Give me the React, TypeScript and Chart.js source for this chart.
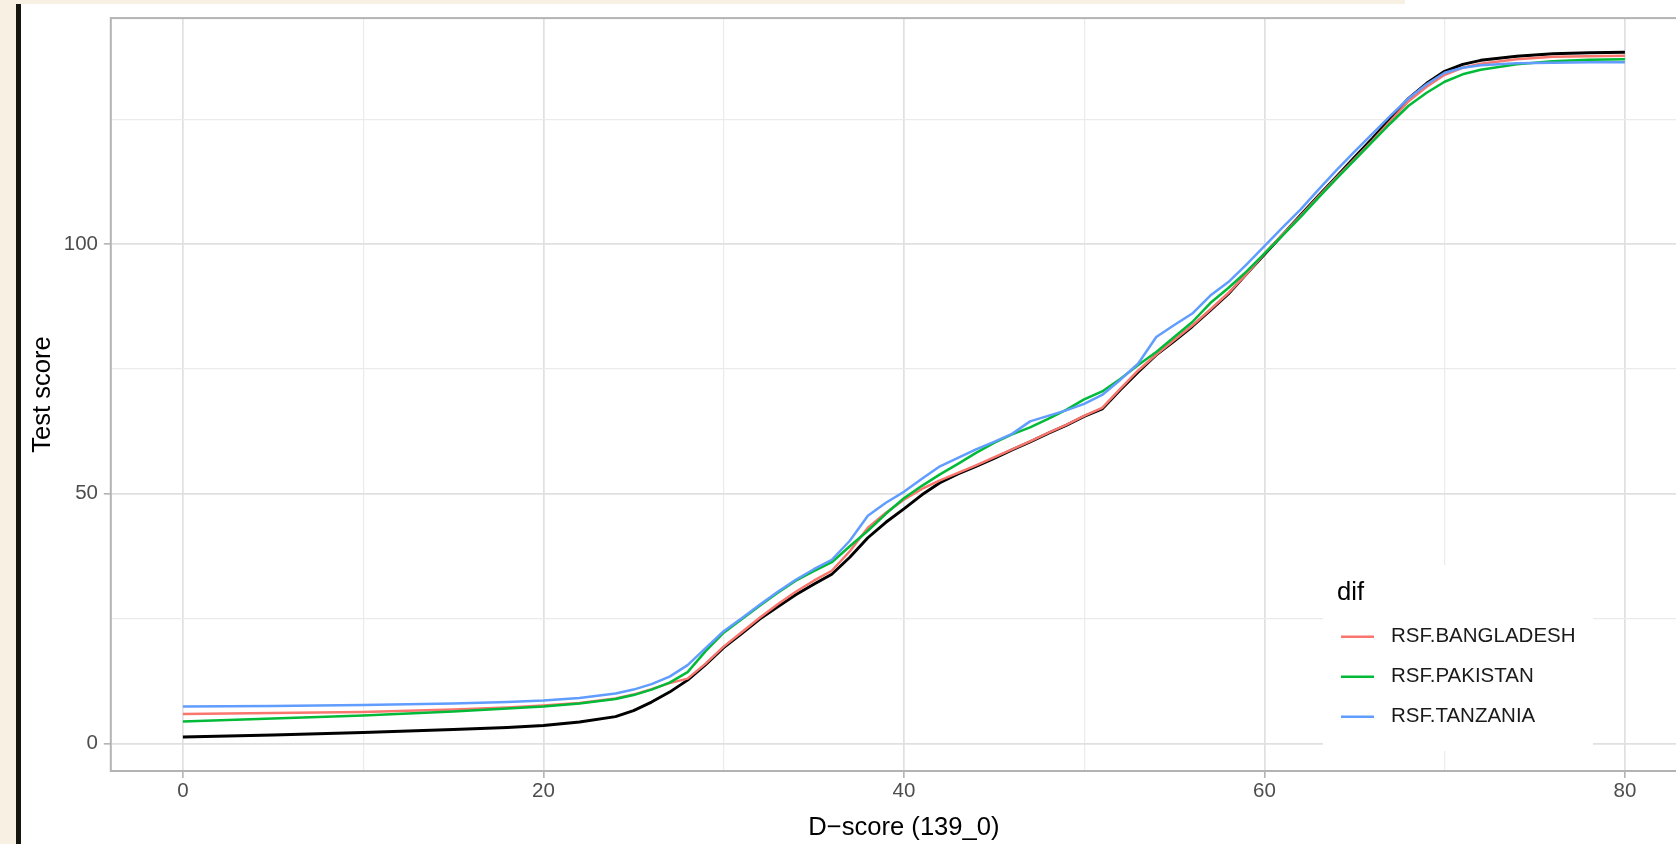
import React, { useEffect, useRef } from "react";
import { Chart, registerables } from "chart.js";

Chart.register(...registerables);

// ---- data ----
const dScore = [
  0, 5, 10, 15, 18, 20, 22, 24, 25, 26, 27, 28, 29, 30, 31, 32, 33, 34, 35, 36, 37, 38, 39,
  40, 41, 42, 43, 44, 45, 46, 47, 48, 49, 50, 51, 52, 53, 54, 55, 56, 57, 58, 59,
  60, 61, 62, 63, 64, 65, 66, 67, 68, 69, 70, 71, 72, 74, 76, 78, 80,
];
const overall = [
  1.3, 1.7, 2.2, 2.8, 3.2, 3.6, 4.3, 5.4, 6.6, 8.3, 10.3, 12.7, 15.8, 19.2, 22.0, 24.9, 27.4, 29.8, 31.9, 33.9, 37.3, 41.2, 44.3,
  47.0, 49.8, 52.2, 54.0, 55.5, 57.1, 58.8, 60.4, 62.1, 63.7, 65.5, 67.0, 70.8, 74.4, 77.8, 80.6, 83.5, 86.7, 90.0, 94.0,
  97.9, 101.8, 105.8, 109.7, 113.5, 117.4, 121.2, 125.2, 129.2, 132.2, 134.6, 136.0, 136.8, 137.6, 138.1, 138.3, 138.4,
];
const bangladesh = [
  5.9, 6.1, 6.3, 6.8, 7.2, 7.6, 8.1, 9.0, 9.8, 10.9, 12.1, 13.0, 16.0, 19.4, 22.3, 25.2, 27.9, 30.4, 32.6, 34.6, 38.5, 43.2, 46.2,
  48.8, 51.0, 52.7, 54.2, 55.7, 57.3, 58.9, 60.5, 62.2, 63.8, 65.6, 67.2, 71.0, 74.7, 77.9, 80.8, 83.7, 86.9, 90.2, 94.0,
  98.1, 101.9, 105.6, 109.5, 113.3, 117.0, 120.7, 124.7, 128.6, 131.5, 133.9, 135.3, 136.1, 137.0, 137.5, 137.6, 137.7,
];
const pakistan = [
  4.4, 5.0, 5.6, 6.4, 7.0, 7.4, 8.0, 8.9, 9.7, 10.8, 12.2, 14.3, 18.5, 22.2, 24.9, 27.6, 30.2, 32.6, 34.5, 36.3, 39.5, 42.6, 46.0,
  49.1, 51.6, 53.9, 56.0, 58.2, 60.2, 61.9, 63.3, 65.0, 66.8, 68.9, 70.5, 73.0, 75.8, 78.4, 81.4, 84.4, 88.2, 91.2, 94.5,
  98.1, 101.7, 105.4, 109.3, 113.1, 116.8, 120.5, 124.2, 127.7, 130.3, 132.5, 134.0, 134.9, 136.0, 136.6, 136.9, 137.0,
];
const tanzania = [
  7.4, 7.5, 7.7, 8.0, 8.3, 8.6, 9.1, 10.0, 10.8, 11.9, 13.4, 15.7, 19.1, 22.5, 25.1, 27.8, 30.4, 32.8, 34.9, 36.8, 40.6, 45.6, 48.2,
  50.4, 53.0, 55.5, 57.2, 58.9, 60.4, 62.0, 64.5, 65.6, 66.7, 68.0, 69.8, 72.8, 76.1, 81.4, 83.8, 86.1, 89.7, 92.4, 95.9,
  99.6, 103.3, 106.9, 110.9, 114.8, 118.5, 122.1, 125.7, 129.2, 132.0, 134.3, 135.3, 135.8, 136.2, 136.3, 136.4, 136.4,
];

const seriesLabels = ["RSF.BANGLADESH", "RSF.PAKISTAN", "RSF.TANZANIA"];
const xMajorTicks = [0, 20, 40, 60, 80];
const xMinorTicks = [10, 30, 50, 70];
const yMajorTicks = [0, 50, 100];
const yMinorTicks = [25, 75, 125];
const legendTitle = "dif";
const xTitle = "D\u2212score (139_0)";
const yTitle = "Test score";

// ---- styles ----
const FAMILY = "'Liberation Sans', Arial, Helvetica, sans-serif";
const seriesColors = ["#F8766D", "#00BA38", "#619CFF"];
const overallColor = "#000000";
const TICK_COLOR = "#4D4D4D";
const BORDER_COLOR = "#B3B3B3";
const CANVAS_W = 1697;
const CANVAS_H = 844;

export default function App() {
  const ref = useRef<HTMLCanvasElement | null>(null);

  useEffect(() => {
    if (!ref.current) return;
    const toPoints = (ys: number[]) => dScore.map((x, i) => ({ x, y: ys[i] }));

    const panelBorder = {
      id: "panelBorder",
      afterDatasetsDraw(chart: any) {
        const { ctx, chartArea: a } = chart;
        ctx.save();
        ctx.strokeStyle = BORDER_COLOR;
        ctx.lineWidth = 2;
        ctx.strokeRect(a.left, a.top, a.right - a.left, a.bottom - a.top);
        ctx.restore();
      },
    };

    const ggLegend = {
      id: "ggLegend",
      afterDraw(chart: any) {
        const { ctx } = chart;
        ctx.save();
        ctx.fillStyle = "#FFFFFF";
        ctx.fillRect(1323, 565, 270, 186);
        ctx.fillStyle = "#000000";
        ctx.textAlign = "left";
        ctx.textBaseline = "alphabetic";
        ctx.font = `25.6px ${FAMILY}`;
        ctx.fillText(legendTitle, 1337, 600);
        ctx.font = `20.5px ${FAMILY}`;
        ctx.textBaseline = "middle";
        seriesLabels.forEach((label, i) => {
          const y = 636.7 + i * 40;
          ctx.strokeStyle = seriesColors[i];
          ctx.lineWidth = 2.4;
          ctx.beginPath();
          ctx.moveTo(1341, y);
          ctx.lineTo(1374, y);
          ctx.stroke();
          ctx.fillStyle = "#1A1A1A";
          ctx.fillText(label, 1391, y);
        });
        ctx.restore();
      },
    };

    const isMajor = (list: number[]) => (c: any) => list.includes(c.tick?.value);

    const chart = new Chart(ref.current, {
      type: "line",
      data: {
        datasets: [
          { label: seriesLabels[0], data: toPoints(bangladesh), borderColor: seriesColors[0], borderWidth: 2.5, order: 3 },
          { label: seriesLabels[1], data: toPoints(pakistan), borderColor: seriesColors[1], borderWidth: 2.5, order: 2 },
          { label: seriesLabels[2], data: toPoints(tanzania), borderColor: seriesColors[2], borderWidth: 2.5, order: 1 },
          { label: "overall", data: toPoints(overall), borderColor: overallColor, borderWidth: 2.9, order: 4 },
        ],
      },
      options: {
        responsive: false,
        animation: false,
        layout: { padding: { top: 14.5, left: 0, right: 0, bottom: 0 } },
        plugins: { legend: { display: false }, tooltip: { enabled: false } },
        elements: {
          point: { radius: 0, hoverRadius: 0 },
          line: { tension: 0, borderJoinStyle: "round", borderCapStyle: "butt", fill: false },
        },
        scales: {
          x: {
            type: "linear",
            min: -4,
            max: 84,
            afterBuildTicks: (s: any) => {
              s.ticks = [...xMajorTicks, ...xMinorTicks].sort((a, b) => a - b).map((v) => ({ value: v }));
            },
            afterFit: (s: any) => {
              s.height = CANVAS_H - 771;
            },
            ticks: {
              autoSkip: false,
              maxRotation: 0,
              padding: 1.4,
              color: TICK_COLOR,
              font: { family: FAMILY, size: 20.5 },
              callback: (v: any) => (xMajorTicks.includes(Number(v)) ? String(v) : ""),
            },
            grid: {
              color: (c: any) => (isMajor(xMajorTicks)(c) ? "#E0E0E0" : "#EBEBEB"),
              lineWidth: (c: any) => (isMajor(xMajorTicks)(c) ? 1.7 : 1.2),
              tickColor: (c: any) => (isMajor(xMajorTicks)(c) ? BORDER_COLOR : "rgba(0,0,0,0)"),
              tickLength: 7,
              tickWidth: 1.6,
            },
            border: { display: false },
            title: {
              display: true,
              text: xTitle,
              color: "#000000",
              font: { family: FAMILY, size: 25.6 },
              padding: { top: 0, bottom: 0.6 },
            },
          },
          y: {
            type: "linear",
            min: -5.5,
            max: 145.25,
            afterBuildTicks: (s: any) => {
              s.ticks = [...yMajorTicks, ...yMinorTicks].sort((a, b) => a - b).map((v) => ({ value: v }));
            },
            afterFit: (s: any) => {
              s.width = 110.8;
            },
            ticks: {
              padding: 5.8,
              color: TICK_COLOR,
              font: { family: FAMILY, size: 20.5 },
              callback: (v: any) => (yMajorTicks.includes(Number(v)) ? String(v) : ""),
            },
            grid: {
              color: (c: any) => (isMajor(yMajorTicks)(c) ? "#E0E0E0" : "#EBEBEB"),
              lineWidth: (c: any) => (isMajor(yMajorTicks)(c) ? 1.7 : 1.2),
              tickColor: (c: any) => (isMajor(yMajorTicks)(c) ? BORDER_COLOR : "rgba(0,0,0,0)"),
              tickLength: 7,
              tickWidth: 1.6,
            },
            border: { display: false },
            title: {
              display: true,
              text: yTitle,
              color: "#000000",
              font: { family: FAMILY, size: 25.6 },
              padding: { top: 27.6, bottom: 0 },
            },
          },
        },
      },
      plugins: [panelBorder, ggLegend],
    } as any);

    return () => chart.destroy();
  }, []);

  return (
    <div
      style={{
        position: "fixed",
        left: 0,
        top: 0,
        width: 1676,
        height: 844,
        overflow: "hidden",
        background: "#F8F1E3",
      }}
    >
      <div style={{ position: "absolute", left: 21, top: 4, right: 0, bottom: 0, background: "#FFFFFF" }} />
      <div style={{ position: "absolute", left: 1405, top: 0, right: 0, height: 4, background: "#FFFFFF" }} />
      <div style={{ position: "absolute", left: 16, top: 4, width: 5, bottom: 0, background: "#17150F" }} />
      <canvas
        ref={ref}
        width={CANVAS_W}
        height={CANVAS_H}
        style={{ position: "absolute", left: 0, top: 0, width: CANVAS_W, height: CANVAS_H }}
      />
    </div>
  );
}
